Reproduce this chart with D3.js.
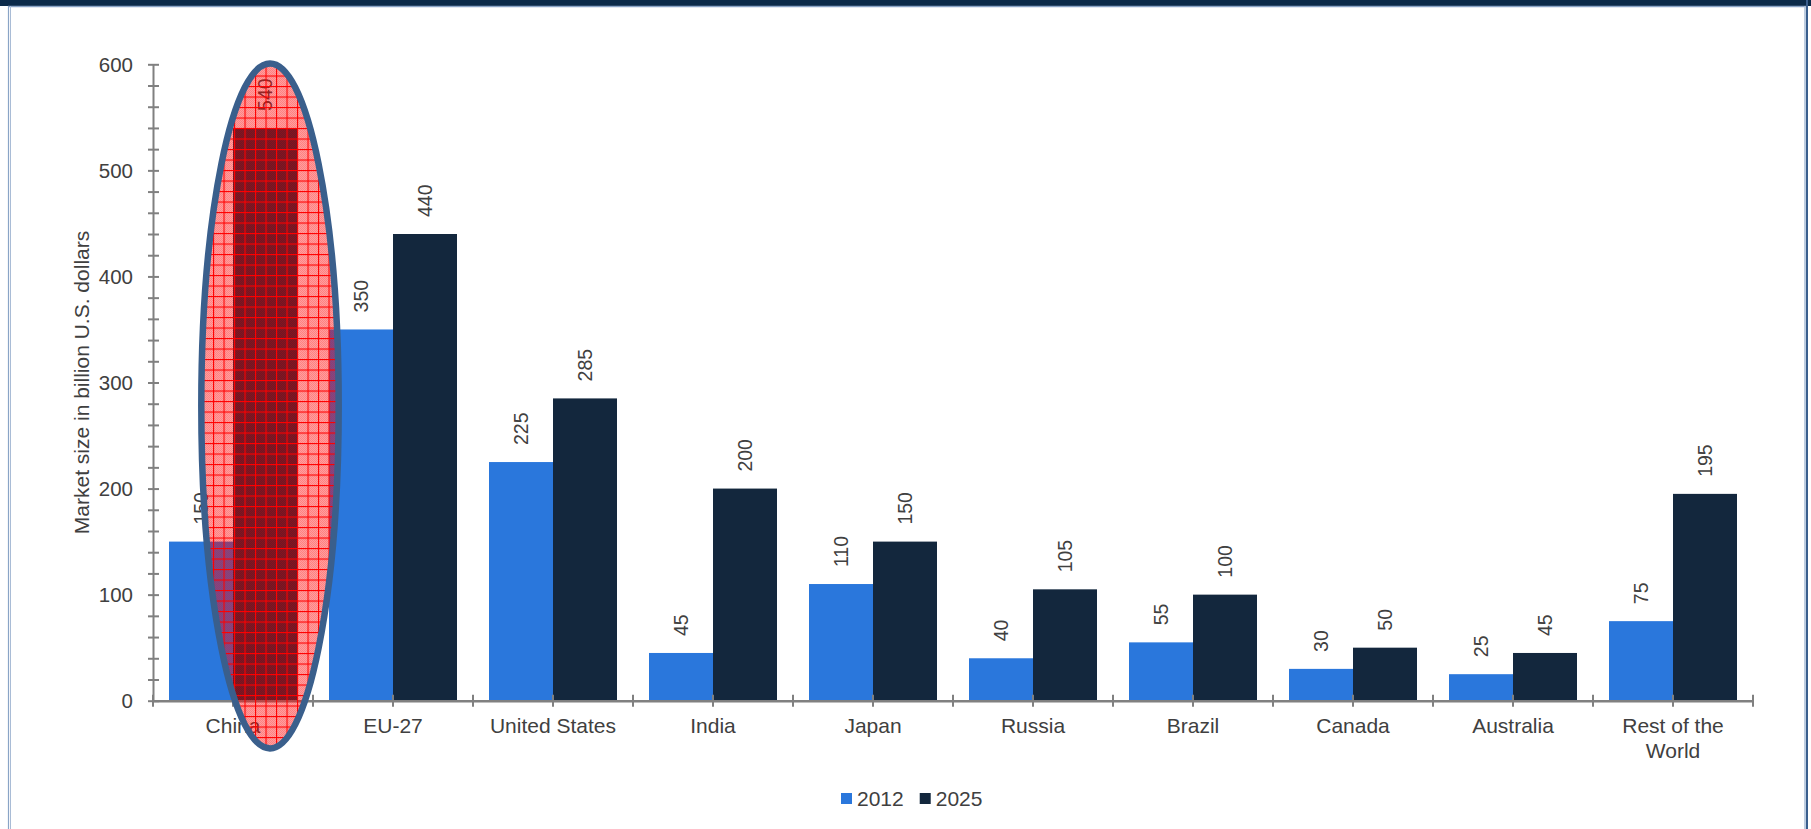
<!DOCTYPE html>
<html>
<head>
<meta charset="utf-8">
<script src="https://cdn.jsdelivr.net/npm/d3@7"></script>
<style>
  html, body { margin: 0; padding: 0; background: #ffffff; }
  svg { display: block; }
  text { font-family: "Liberation Sans", Arial, sans-serif; fill: #404040; }
</style>
</head>
<body>
<svg id="chart" width="1811" height="829"></svg>
<script>
// ---- data ----
const categories = ["China", "EU-27", "United States", "India", "Japan", "Russia", "Brazil", "Canada", "Australia", "Rest of the World"];
const seriesNames = ["2012", "2025"];
const values2012 = [150, 350, 225, 45, 110, 40, 55, 30, 25, 75];
const values2025 = [540, 440, 285, 200, 150, 105, 100, 50, 45, 195];
const yTicks = [0, 100, 200, 300, 400, 500, 600];
const yTitle = "Market size in billion U.S. dollars";
const highlightCategory = "China";

const seriesValues = { "2012": values2012, "2025": values2025 };
const colors = { "2012": "#2A77DC", "2025": "#13273D" };

const W = 1811, H = 829;
const svg = d3.select("#chart");

// ---- frame ----
svg.append("rect").attr("x", 0).attr("y", 0).attr("width", W).attr("height", 6).attr("fill", "#0B2A49");
svg.append("line").attr("x1", 8).attr("x2", 1806).attr("y1", 6.5).attr("y2", 6.5).attr("stroke", "#8AA4C6").attr("stroke-width", 1.5);
svg.append("line").attr("x1", 8.5).attr("x2", 8.5).attr("y1", 6).attr("y2", H).attr("stroke", "#8AA4C6").attr("stroke-width", 1.2);
svg.append("line").attr("x1", 10.5).attr("x2", 10.5).attr("y1", 6).attr("y2", H).attr("stroke", "#A9BCD6").attr("stroke-width", 1);
svg.append("line").attr("x1", 1805).attr("x2", 1805).attr("y1", 6).attr("y2", H).attr("stroke", "#A9BCD6").attr("stroke-width", 1.5);
svg.append("line").attr("x1", 1807).attr("x2", 1807).attr("y1", 0).attr("y2", H).attr("stroke", "#3A5F8E").attr("stroke-width", 2);

// ---- scales ----
const x = d3.scaleBand().domain(categories).range([153, 1753]).paddingInner(0).paddingOuter(0);
const xs = d3.scaleBand().domain(seriesNames).range([x.bandwidth() * 0.1, x.bandwidth() * 0.9]).padding(0);
const y = d3.scaleLinear().domain([0, 600]).range([700.7, 64.3]);

// ---- y axis ----
const yAxis = svg.append("g").attr("transform", "translate(153,0)")
  .call(d3.axisLeft(y).tickValues(d3.range(0, 601, 20)).tickSizeOuter(0).tickSizeInner(5)
    .tickFormat(d => yTicks.includes(d) ? d : ""));
yAxis.select(".domain").attr("stroke", "#808080").attr("stroke-width", 2);
yAxis.selectAll(".tick line").attr("stroke", "#808080").attr("stroke-width", 2).attr("x1", -5).attr("x2", 6);
yAxis.selectAll(".tick text").attr("x", -20).attr("dy", "0.35em").style("font-size", "20.5px")
  .style("font-family", "'Liberation Sans', Arial, sans-serif").attr("fill", "#404040");

svg.append("text")
  .attr("transform", `translate(81,${(y(0) + y(600)) / 2}) rotate(-90)`)
  .attr("text-anchor", "middle").attr("dominant-baseline", "central")
  .style("font-size", "21px").text(yTitle);

// ---- bars ----
const groups = svg.append("g").selectAll("g").data(categories).join("g")
  .attr("transform", d => `translate(${x(d)},0)`);

seriesNames.forEach(s => {
  groups.append("rect")
    .attr("x", xs(s)).attr("width", xs.bandwidth())
    .attr("y", (d, i) => y(seriesValues[s][i]))
    .attr("height", (d, i) => y(0) - y(seriesValues[s][i]))
    .attr("fill", colors[s]);
  groups.append("text")
    .attr("transform", (d, i) => `translate(${xs(s) + xs.bandwidth() / 2},${y(seriesValues[s][i]) - 17}) rotate(-90)`)
    .attr("text-anchor", "start").attr("dominant-baseline", "central")
    .style("font-size", "19.5px")
    .text((d, i) => seriesValues[s][i]);
});

// ---- x axis ----
const xAxis = svg.append("g").attr("transform", `translate(0,${y(0)})`)
  .call(d3.axisBottom(x).tickSizeOuter(0).tickSizeInner(6));
xAxis.select(".domain").attr("stroke", "#808080").attr("stroke-width", 2.5);
xAxis.selectAll(".tick line").attr("stroke", "#808080").attr("stroke-width", 2).attr("y1", -6).attr("y2", 6);
xAxis.selectAll(".tick text").remove();
// boundary ticks
const bounds = categories.map(c => x(c)).concat([x.range()[1]]);
xAxis.selectAll(".btick").data(bounds).join("line").attr("class", "btick")
  .attr("x1", d => d).attr("x2", d => d).attr("y1", -6).attr("y2", 6)
  .attr("stroke", "#808080").attr("stroke-width", 2);

// category labels with wrapping
const labels = svg.append("g").selectAll("text").data(categories).join("text")
  .attr("x", d => x(d) + x.bandwidth() / 2).attr("y", 733)
  .attr("text-anchor", "middle").style("font-size", "21px");
labels.each(function (d) {
  const t = d3.select(this);
  const words = d.split(" ");
  let lines = [], cur = [];
  const probe = t.append("tspan");
  words.forEach(w => {
    const test = cur.concat([w]).join(" ");
    probe.text(test);
    if (probe.node().getComputedTextLength() > 140 && cur.length) { lines.push(cur.join(" ")); cur = [w]; }
    else cur.push(w);
  });
  lines.push(cur.join(" "));
  probe.remove();
  lines.forEach((l, i) => t.append("tspan").attr("x", x(d) + x.bandwidth() / 2).attr("dy", i === 0 ? 0 : 25).text(l));
});

// ---- legend ----
const legend = svg.append("g");
let lx = 841;
seriesNames.forEach(s => {
  legend.append("rect").attr("x", lx).attr("y", 793).attr("width", 11).attr("height", 11).attr("fill", colors[s]);
  const t = legend.append("text").attr("x", lx + 16).attr("y", 806).style("font-size", "21px").text(s);
  lx = lx + 16 + t.node().getComputedTextLength() + 16;
});

// ---- highlight ellipse ----
const defs = svg.append("defs");
const dith = defs.append("pattern").attr("id", "dither").attr("patternUnits", "userSpaceOnUse")
  .attr("width", 2).attr("height", 2);
dith.append("rect").attr("x", 0).attr("y", 0).attr("width", 2).attr("height", 2).attr("fill", "rgba(255,0,0,0.38)");
dith.append("rect").attr("x", 0).attr("y", 0).attr("width", 1).attr("height", 1).attr("fill", "rgba(255,0,0,0.18)");
dith.append("rect").attr("x", 1).attr("y", 1).attr("width", 1).attr("height", 1).attr("fill", "rgba(255,0,0,0.18)");
const grid = defs.append("pattern").attr("id", "gridpat").attr("patternUnits", "userSpaceOnUse")
  .attr("width", 10.5).attr("height", 10.5).attr("x", 3).attr("y", 2);
grid.append("rect").attr("x", 0).attr("y", 0).attr("width", 10.5).attr("height", 1.1).attr("fill", "#FF0000");
grid.append("rect").attr("x", 0).attr("y", 0).attr("width", 1.1).attr("height", 10.5).attr("fill", "#FF0000");

const hx = x(highlightCategory) + xs("2025") + xs.bandwidth() / 2 + 5;
const yTop = y(600) - 0.8, yBot = y(-45);
const ecy = (yTop + yBot) / 2, ery = (yBot - yTop) / 2, erx = 68.7;
svg.append("ellipse").attr("cx", hx).attr("cy", ecy).attr("rx", erx).attr("ry", ery).attr("fill", "url(#dither)");
svg.append("ellipse").attr("cx", hx).attr("cy", ecy).attr("rx", erx).attr("ry", ery).attr("fill", "url(#gridpat)");
svg.append("ellipse").attr("cx", hx).attr("cy", ecy).attr("rx", erx).attr("ry", ery)
  .attr("fill", "none").attr("stroke", "#3A5F8C").attr("stroke-width", 6.5);
</script>
</body>
</html>
